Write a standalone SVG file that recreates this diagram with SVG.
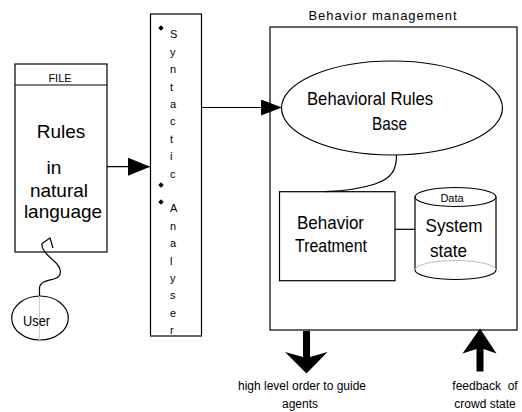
<svg xmlns="http://www.w3.org/2000/svg" width="522" height="412" viewBox="0 0 522 412">
<style>
text{font-family:"Liberation Sans",Arial,sans-serif;fill:#000}
.shape{fill:#fff;stroke:#000;stroke-width:1.2}
.line{fill:none;stroke:#000;stroke-width:1.2}
.big{font-size:19px}
.sm{font-size:11px}
.lbl{font-size:12px}
.let{font-size:11px}
</style>
<defs>
<marker id="ah" markerUnits="userSpaceOnUse" markerWidth="22" markerHeight="18" refX="22" refY="9" orient="auto">
<path d="M0,0 L22,9 L0,18 Z" fill="#000"/>
</marker>
<marker id="ah2" markerUnits="userSpaceOnUse" markerWidth="21" markerHeight="16" refX="21" refY="8" orient="auto">
<path d="M0,0 L21,8 L0,16 Z" fill="#000"/>
</marker>
<clipPath id="anclip"><rect x="150" y="14" width="52" height="322"/></clipPath>
</defs>

<g id="file">
<rect class="shape" x="15" y="64" width="92" height="188"/>
<line class="line" x1="15" y1="85" x2="107" y2="85"/>
<text class="sm" x="60" y="81.5" text-anchor="middle">FILE</text>
<text class="big" x="61" y="138" text-anchor="middle">Rules</text>
<text class="big" x="54" y="174" text-anchor="middle">in</text>
<text class="big" x="59" y="196.5" text-anchor="middle">natural</text>
<text class="big" x="63" y="217.5" text-anchor="middle">language</text>
</g>

<g id="user">
<ellipse class="shape" cx="40" cy="318" rx="28.3" ry="22"/>
<line x1="39.5" y1="296" x2="39.5" y2="340" stroke="#ccc" stroke-width="1"/>
<text x="23" y="325.5" font-size="15" textLength="27" lengthAdjust="spacingAndGlyphs">User</text>
</g>

<g id="analyser">
<rect class="shape" x="150.5" y="14" width="51" height="322"/>
<g fill="#000">
<path d="M161,25.3 L163.7,28 L161,30.7 L158.3,28 Z"/>
<path d="M161,182.3 L163.7,185 L161,187.7 L158.3,185 Z"/>
<path d="M161,199.3 L163.7,202 L161,204.7 L158.3,202 Z"/>
</g>
<g clip-path="url(#anclip)" class="let">
<text class="let" x="170" y="38.3">S</text>
<text class="let" x="170" y="55.7">y</text>
<text class="let" x="170" y="73.1">n</text>
<text class="let" x="170" y="90.5">t</text>
<text class="let" x="170" y="107.9">a</text>
<text class="let" x="170" y="125.3">c</text>
<text class="let" x="170" y="142.7">t</text>
<text class="let" x="170" y="160.1">i</text>
<text class="let" x="170" y="177.5">c</text>
<text class="let" x="170" y="212.3">A</text>
<text class="let" x="170" y="229.7">n</text>
<text class="let" x="170" y="247.1">a</text>
<text class="let" x="170" y="264.5">l</text>
<text class="let" x="170" y="281.9">y</text>
<text class="let" x="170" y="299.3">s</text>
<text class="let" x="170" y="316.7">e</text>
<text class="let" x="170" y="334.1">r</text>
</g>
</g>

<g id="behavior-management">
<rect class="shape" x="270" y="27" width="247" height="303"/>
<text x="382.5" y="20" font-size="13" text-anchor="middle" textLength="148" lengthAdjust="spacing">Behavior management</text>
</g>

<g id="rules-base">
<ellipse class="shape" cx="392" cy="108" rx="110.5" ry="47"/>
<text x="307" y="105" font-size="19" textLength="126" lengthAdjust="spacingAndGlyphs">Behavioral Rules</text>
<text x="372" y="130" font-size="19" textLength="35" lengthAdjust="spacingAndGlyphs">Base</text>
</g>

<g id="behavior-treatment">
<rect class="shape" x="279.5" y="191.7" width="115.5" height="89"/>
<text x="297" y="229" font-size="19" textLength="67" lengthAdjust="spacingAndGlyphs">Behavior</text>
<text x="295" y="251.7" font-size="19" textLength="72" lengthAdjust="spacingAndGlyphs">Treatment</text>
</g>

<g id="system-state">
<path class="shape" d="M415,197 L415,270 A40.5,9.5 0 0 0 496,270 L496,197 Z"/>
<path d="M415,270 A40.5,9.5 0 0 1 496,270" fill="none" stroke="#bbb" stroke-width="1"/>
<ellipse class="shape" cx="455.5" cy="197" rx="40.5" ry="9.5"/>
<text class="sm" x="452" y="202" text-anchor="middle">Data</text>
<text x="425.5" y="231.7" font-size="19" textLength="57" lengthAdjust="spacingAndGlyphs">System</text>
<text x="430" y="257" font-size="19" textLength="37" lengthAdjust="spacingAndGlyphs">state</text>
</g>

<g id="connectors">
<line class="line" x1="107" y1="166.7" x2="150" y2="166.7" marker-end="url(#ah)"/>
<line class="line" x1="201.5" y1="107.5" x2="282" y2="107.5" marker-end="url(#ah2)"/>
<path class="line" d="M396.5,155 C396.5,170 392,178 375,184 C360,189 340,191 325,191.7"/>
<line class="line" x1="395" y1="229.3" x2="415" y2="229.3"/>
<path class="line" d="M39.5,296 L39.5,288 C40,282 46,281 54,279 C64,276 61,267 54,261 C46,254 41,249 42,243.5 L50,238 L53,248"/>
<path fill="#000" d="M303,331 L310,331 L310,357 L327.5,352 L306.5,373.5 L285,352 L303,357 Z"/>
<path fill="#000" d="M476.5,371.5 L483.5,371.5 L483.5,349 L496.5,353.5 L480,328.5 L462.5,353.5 L476.5,349 Z"/>
</g>

<g id="labels">
<text class="lbl" x="302" y="390" text-anchor="middle">high level order to guide</text>
<text class="lbl" x="300" y="408" text-anchor="middle">agents</text>
<text class="lbl" x="485" y="390" text-anchor="middle" style="white-space:pre">feedback  of</text>
<text class="lbl" x="485" y="408" text-anchor="middle">crowd state</text>
</g>
</svg>
